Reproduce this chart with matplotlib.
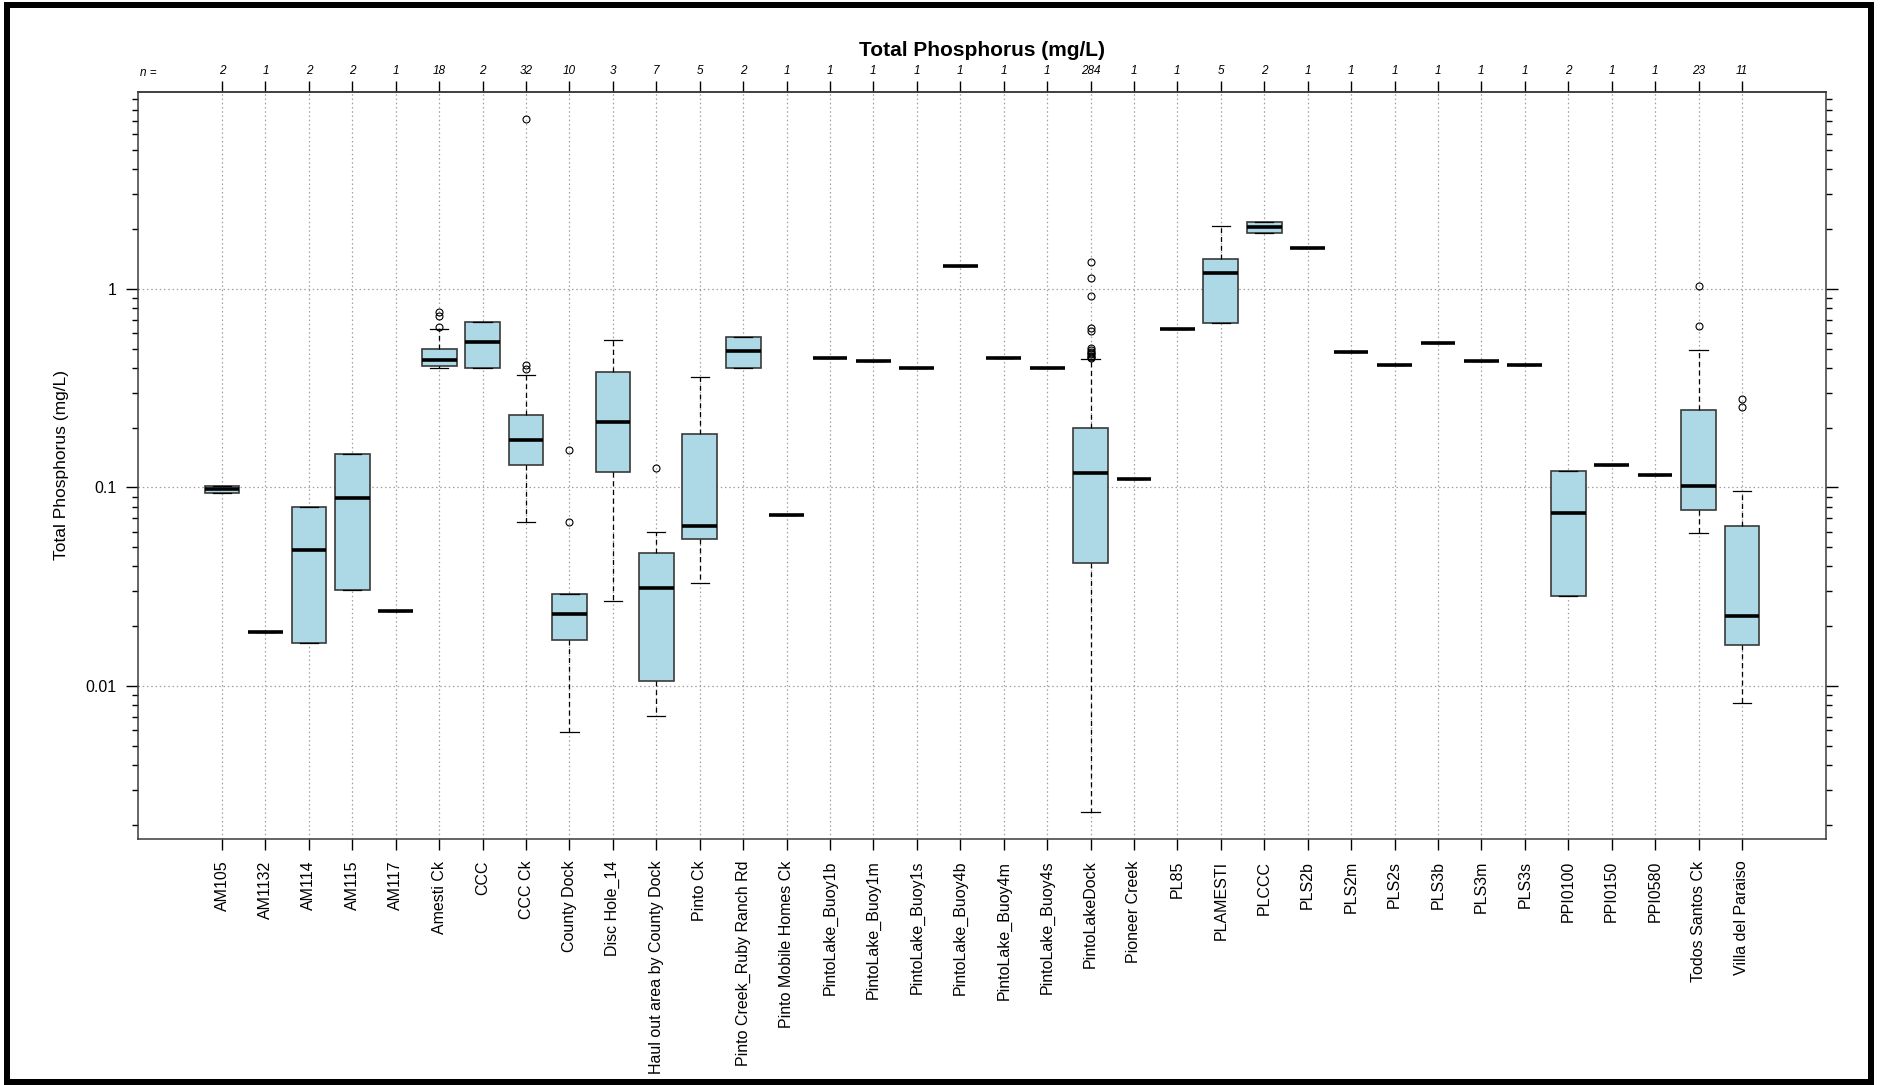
import matplotlib
matplotlib.use("Agg")
import matplotlib.pyplot as plt
from matplotlib.patches import Rectangle
from matplotlib.ticker import FixedLocator, NullFormatter

plt.rcParams['font.family'] = ['Liberation Sans', 'DejaVu Sans']

# ---------------- data ----------------
sites = ["AM105", "AM1132", "AM114", "AM115", "AM117", "Amesti Ck", "CCC", "CCC Ck",
         "County Dock", "Disc Hole_14", "Haul out area by County Dock", "Pinto Ck",
         "Pinto Creek_Ruby Ranch Rd", "Pinto Mobile Homes Ck", "PintoLake_Buoy1b",
         "PintoLake_Buoy1m", "PintoLake_Buoy1s", "PintoLake_Buoy4b", "PintoLake_Buoy4m",
         "PintoLake_Buoy4s", "PintoLakeDock", "Pioneer Creek", "PL85", "PLAMESTI", "PLCCC",
         "PLS2b", "PLS2m", "PLS2s", "PLS3b", "PLS3m", "PLS3s", "PPI0100", "PPI0150",
         "PPI0580", "Todos Santos Ck", "Villa del Paraiso"]

n_obs = [2, 1, 2, 2, 1, 18, 2, 32, 10, 3, 7, 5, 2, 1, 1, 1, 1, 1, 1, 1, 284, 1, 1, 5, 2,
         1, 1, 1, 1, 1, 1, 2, 1, 1, 23, 11]

medians = [0.098, 0.0188, 0.0484, 0.0888, 0.0239, 0.439, 0.54, 0.174, 0.023, 0.214,
           0.0312, 0.064, 0.486, 0.0731, 0.451, 0.433, 0.401, 1.30, 0.451, 0.401, 0.1186,
           0.110, 0.628, 1.21, 2.04, 1.61, 0.480, 0.413, 0.532, 0.435, 0.413, 0.0744,
           0.1295, 0.1156, 0.102, 0.0224]

q1 = [0.094, 0.0188, 0.0165, 0.0306, 0.0239, 0.409, 0.401, 0.130, 0.0171, 0.120,
      0.01054, 0.0548, 0.401, 0.0731, 0.451, 0.433, 0.401, 1.30, 0.451, 0.401, 0.0415,
      0.110, 0.628, 0.676, 1.91, 1.61, 0.480, 0.413, 0.532, 0.435, 0.413, 0.0283,
      0.1295, 0.1156, 0.0768, 0.0161]

q3 = [0.102, 0.0188, 0.080, 0.147, 0.0239, 0.499, 0.68, 0.231, 0.029, 0.380,
      0.0466, 0.186, 0.575, 0.0731, 0.451, 0.433, 0.401, 1.30, 0.451, 0.401, 0.200,
      0.110, 0.628, 1.42, 2.17, 1.61, 0.480, 0.413, 0.532, 0.435, 0.413, 0.1205,
      0.1295, 0.1156, 0.247, 0.064]

whisk_lo = [0.094, 0.0188, 0.0165, 0.0306, 0.0239, 0.400, 0.401, 0.0667, 0.0059, 0.0269,
            0.00708, 0.033, 0.401, 0.0731, 0.451, 0.433, 0.401, 1.30, 0.451, 0.401, 0.00233,
            0.110, 0.628, 0.676, 1.91, 1.61, 0.480, 0.413, 0.532, 0.435, 0.413, 0.0283,
            0.1295, 0.1156, 0.0593, 0.00826]

whisk_hi = [0.102, 0.0188, 0.080, 0.147, 0.0239, 0.625, 0.68, 0.367, 0.029, 0.552,
            0.0594, 0.362, 0.575, 0.0731, 0.451, 0.433, 0.401, 1.30, 0.451, 0.401, 0.444,
            0.110, 0.628, 2.07, 2.17, 1.61, 0.480, 0.413, 0.532, 0.435, 0.413, 0.1205,
            0.1295, 0.1156, 0.492, 0.0955]

outliers = [[], [], [], [], [], [0.64, 0.73, 0.765], [], [0.394, 0.416, 7.2],
            [0.0667, 0.155], [], [0.125], [], [], [], [], [], [], [], [], [],
            [1.36, 1.13, 0.92, 0.634, 0.617, 0.503, 0.49, 0.483, 0.475, 0.469, 0.462,
             0.456, 0.45],
            [], [], [], [], [], [], [], [], [], [], [], [], [], [0.647, 1.03], [0.254, 0.280]]

title = "Total Phosphorus (mg/L)"
ylabel = "Total Phosphorus (mg/L)"
ytick_vals = [0.01, 0.1, 1]
ytick_labels = ["0.01", "0.1", "1"]

# ---------------- figure ----------------
W, H = 1881, 1085
fig = plt.figure(figsize=(W / 100, H / 100), dpi=100)
ax_l, ax_r, ax_t, ax_b = 138, 1826, 92, 838.5
ax = fig.add_axes([ax_l / W, 1 - ax_b / H, (ax_r - ax_l) / W, (ax_b - ax_t) / H])

pos = list(range(1, len(sites) + 1))
stats = []
for i in range(len(sites)):
    stats.append(dict(med=medians[i], q1=q1[i], q3=q3[i], whislo=whisk_lo[i],
                      whishi=whisk_hi[i], fliers=outliers[i]))

ax.set_yscale('log')

grid_kw = dict(color='#a0a0a0', linestyle=(0, (1.2, 2.2)), linewidth=0.9, zorder=0)
for p in pos:
    ax.axvline(p, **grid_kw)
for yv in ytick_vals:
    ax.axhline(yv, **grid_kw)

ax.bxp(stats, positions=pos, widths=0.8, patch_artist=True, showfliers=True,
       boxprops=dict(facecolor='#ADD8E6', edgecolor='#3a3a3a', linewidth=1.2),
       medianprops=dict(color='black', linewidth=2.6, solid_capstyle='butt'),
       whiskerprops=dict(color='black', linewidth=0.9, linestyle=(0, (4, 3))),
       capprops=dict(color='black', linewidth=0.9),
       flierprops=dict(marker='o', markerfacecolor='none', markeredgecolor='black',
                       markersize=5, markeredgewidth=0.8),
       capwidths=0.42, manage_ticks=False, zorder=3)

ax.set_xlim(-0.935, 37.935)
ax.set_ylim(10 ** -2.768, 10 ** 0.992)

# x axis (bottom): site names
ax.set_xticks(pos)
ax.set_xticklabels(sites, rotation=90, fontsize=11.5)
ax.tick_params(axis='x', which='major', direction='out', length=8, width=1,
               pad=8, colors='black', bottom=True, top=False)

# y axis: log ticks on both sides
ax.yaxis.set_major_locator(FixedLocator(ytick_vals))
ax.set_yticklabels(ytick_labels, fontsize=11.5)
minor_vals = []
for dec in [0.001, 0.01, 0.1, 1]:
    for m in range(2, 10):
        minor_vals.append(dec * m)
ax.yaxis.set_minor_locator(FixedLocator(minor_vals))
ax.yaxis.set_minor_formatter(NullFormatter())
ax.tick_params(axis='y', which='major', direction='out', length=8.5, width=1,
               pad=7, left=True, right=True, labelleft=True, labelright=False)
ax.tick_params(axis='y', which='minor', direction='out', length=4.2, width=1,
               left=True, right=True)

for sp in ax.spines.values():
    sp.set_color('#3a3a3a')
    sp.set_linewidth(1.1)

# top axis: sample counts
sec = ax.secondary_xaxis('top')
sec.set_xticks(pos)
sec.set_xticklabels([str(n) for n in n_obs], fontsize=8.5, style='italic')
sec.tick_params(axis='x', direction='out', length=8, width=1, pad=3)
sec.spines['top'].set_color('#3a3a3a')
sec.spines['top'].set_linewidth(1.1)
fig.text(140 / W, 1 - 73 / H, "n =", fontsize=8.5, style='italic', ha='left', va='center')

# titles
fig.text(982 / W, 1 - 50 / H, title, fontsize=15, fontweight='bold', ha='center', va='center')
fig.text(62 / W, 1 - 465 / H, ylabel, fontsize=12.5, rotation=90, ha='center', va='center')

# outer frame
lw_px = 6
fig.add_artist(Rectangle((7 / W, 3 / H), (1871 - 7) / W, (1080 - 3) / H,
                         transform=fig.transFigure, fill=False, edgecolor='black',
                         linewidth=lw_px * 0.72))

fig.savefig("out.png", dpi=100)
